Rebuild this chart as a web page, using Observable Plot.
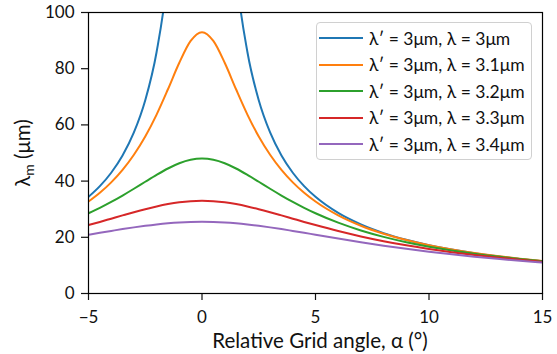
<!DOCTYPE html>
<html>
<head>
<meta charset="utf-8">
<script src="https://cdn.jsdelivr.net/npm/d3@7"></script>
<script src="https://cdn.jsdelivr.net/npm/@observablehq/plot@0.6"></script>
<style>
  html, body { margin: 0; padding: 0; background: #fff; }
  #wrap { position: relative; width: 557px; height: 354px; font-family: Lato, "Open Sans", sans-serif; }
  #legend { position: absolute; left: 316px; top: 22px; width: 214px; height: 134px;
    border: 1px solid #d0d0d0; border-radius: 4px; background: rgba(255,255,255,0.8);
    box-sizing: content-box; padding-top: 2px; }
  .row { display: flex; align-items: center; height: 26.5px; font-size: 17.5px; color: #111; white-space: nowrap; }
  .sw { width: 44px; height: 2px; margin-left: 2px; margin-right: 6px; }
</style>
</head>
<body>
<div id="wrap"></div>
<script>
const angles = [-5,-4.5,-4,-3.5,-3,-2.5,-2,-1.5,-1,-0.5,0,0.5,1,1.5,2,2.5,3,3.5,4,4.5,5,6,7,8,9,10,11,12,13,14,15];

const seriesNames = [
  "λ′ = 3μm, λ = 3μm",
  "λ′ = 3μm, λ = 3.1μm",
  "λ′ = 3μm, λ = 3.2μm",
  "λ′ = 3μm, λ = 3.3μm",
  "λ′ = 3μm, λ = 3.4μm"
];
const colors = ["#1f77b4", "#ff7f0e", "#2ca02c", "#d62728", "#9467bd"];

const lam30 = [34.39,38.21,42.98,49.12,57.30,68.76,85.95,114.6,171.9,null,null,null,171.9,114.6,85.95,68.76,57.30,49.12,42.98,38.21,34.39,28.66,24.57,21.50,19.12,17.21,15.65,14.35,13.25,12.31,11.49];
const lam31 = [32.72,35.84,39.54,43.99,49.37,55.87,63.68,72.68,82.10,89.87,93.0,89.87,82.10,72.68,63.68,55.87,49.37,43.99,39.54,35.84,32.72,27.80,24.12,21.28,19.02,17.19,15.68,14.41,13.33,12.40,11.59];
const lam32 = [28.55,30.48,32.59,34.87,37.28,39.77,42.22,44.48,46.34,47.57,48.0,47.57,46.34,44.48,42.22,39.77,37.28,34.87,32.59,30.48,28.55,25.20,22.43,20.16,18.26,16.67,15.32,14.16,13.16,12.29,11.52];
const lam33 = [24.35,25.47,26.63,27.79,28.93,30.01,30.99,31.82,32.46,32.86,33.0,32.86,32.46,31.82,30.99,30.01,28.93,27.79,26.63,25.47,24.35,22.22,20.31,18.62,17.14,15.84,14.70,13.69,12.81,12.02,11.32];
const lam34 = [20.92,21.61,22.27,22.92,23.53,24.08,24.56,24.96,25.26,25.44,25.5,25.44,25.26,24.96,24.56,24.08,23.53,22.92,22.27,21.61,20.92,19.57,18.26,17.03,15.91,14.88,13.95,13.11,12.34,11.65,11.03];

const xTicks = [-5, 0, 5, 10, 15];
const yTicks = [0, 20, 40, 60, 80, 100];

const allSeries = [lam30, lam31, lam32, lam33, lam34];
const data = [];
allSeries.forEach((vals, si) => {
  vals.forEach((v, i) => data.push({angle: angles[i], value: v, series: seriesNames[si]}));
});

const W = 557, H = 354;
const chart = Plot.plot({
  width: W, height: H,
  marginLeft: 88, marginRight: 15, marginTop: 12, marginBottom: 61,
  style: {fontFamily: "Lato, 'Open Sans', sans-serif", fontSize: "17px", color: "#111", background: "#fff"},
  x: {domain: [-5, 15], ticks: xTicks, tickSize: 7, tickPadding: 10, label: null},
  y: {domain: [0, 100], ticks: yTicks, tickSize: 7, tickPadding: 7, label: null},
  color: {domain: seriesNames, range: colors},
  marks: [
    Plot.line(data, {x: "angle", y: "value", z: "series", stroke: "series", strokeWidth: 2,
      curve: "monotone-x", clip: true, defined: d => d.value != null}),
    Plot.frame({stroke: "#000", strokeWidth: 1.2})
  ]
});

const svg = d3.select(chart);
svg.selectAll("g[aria-label='x-axis tick'] path, g[aria-label='y-axis tick'] path").attr("stroke-width", 1.2);

svg.append("text")
  .attr("x", 320).attr("y", 348)
  .attr("text-anchor", "middle")
  .attr("font-size", 20.5).attr("fill", "#111")
  .text("Relative Grid angle, α (°)");

const yl = svg.append("text")
  .attr("transform", "translate(30,153) rotate(-90)")
  .attr("text-anchor", "middle")
  .attr("font-size", 20.5).attr("fill", "#111");
yl.append("tspan").text("λ");
yl.append("tspan").attr("font-size", 14).attr("dy", 4).text("m");
yl.append("tspan").attr("dy", -4).text(" (μm)");

const wrap = document.getElementById("wrap");
wrap.appendChild(chart);

const legend = document.createElement("div");
legend.id = "legend";
seriesNames.forEach((name, i) => {
  const row = document.createElement("div");
  row.className = "row";
  const sw = document.createElement("span");
  sw.className = "sw";
  sw.style.background = colors[i];
  const t = document.createElement("span");
  t.textContent = name;
  row.appendChild(sw);
  row.appendChild(t);
  legend.appendChild(row);
});
wrap.appendChild(legend);
</script>
</body>
</html>
